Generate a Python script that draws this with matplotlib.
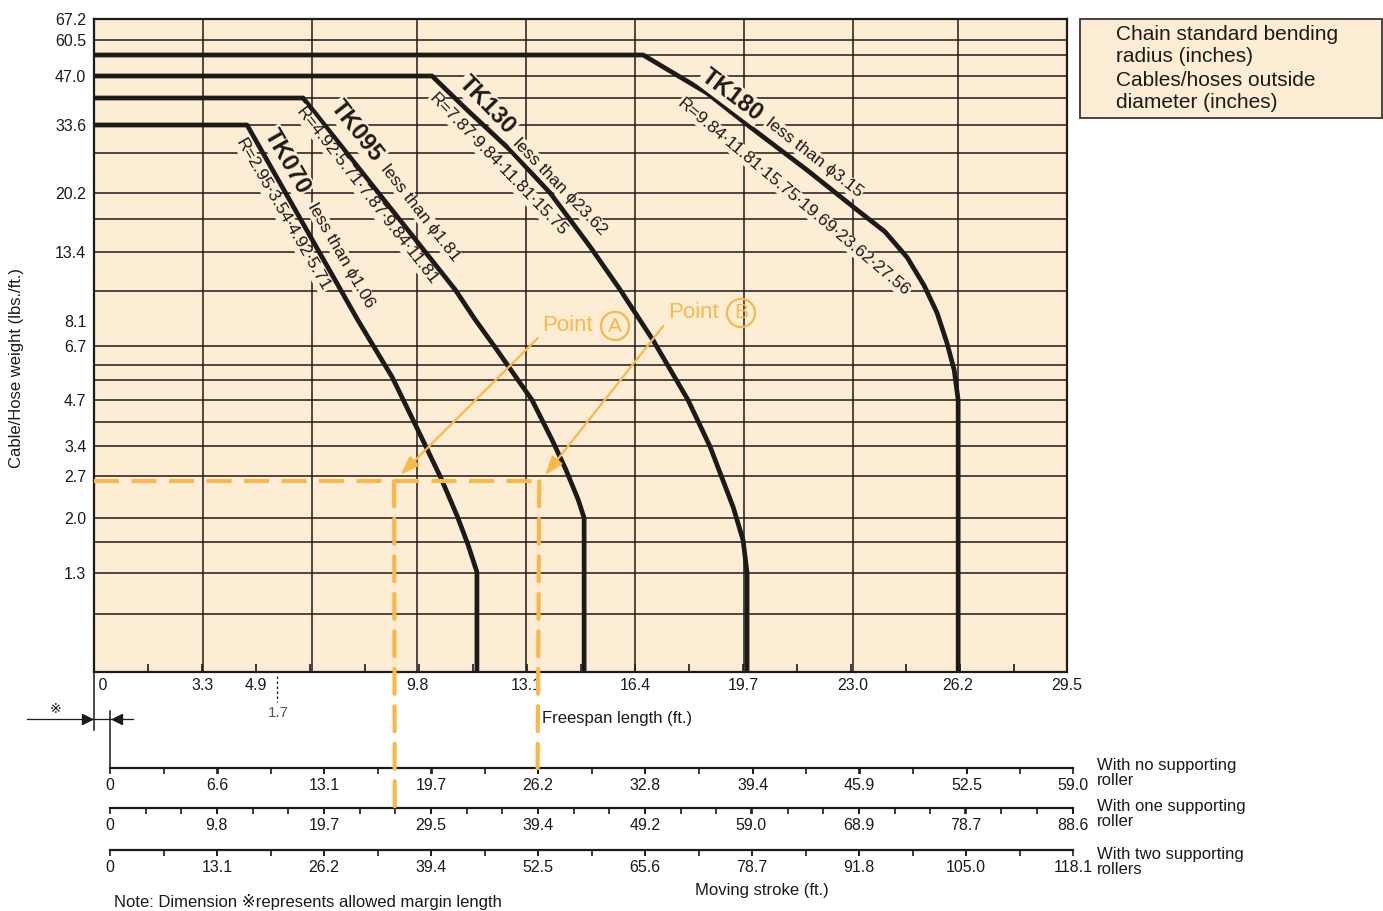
"""Cable carrier selection chart: freespan length vs. cable/hose weight.

Four chain series (TK070 .. TK180) are drawn on a calibrated weight axis,
with three moving-stroke scales underneath. Writes out.png.
"""

import numpy as np
import matplotlib

matplotlib.use("Agg")
import matplotlib.pyplot as plt
from matplotlib.patches import ConnectionPatch, Rectangle
from matplotlib.ticker import MultipleLocator, NullLocator

plt.rcParams["font.family"] = ["Liberation Sans", "DejaVu Sans", "Noto Sans CJK JP"]

# ---------------------------------------------------------------- data ---
SPAN_TICKS = [0, 3.3, 4.9, 9.8, 13.1, 16.4, 19.7, 23.0, 26.2, 29.5]
SPAN_GRID = [3.3, 6.6, 9.8, 13.1, 16.4, 19.7, 23.0, 26.2]

WEIGHT_TICKS = [67.2, 60.5, 47.0, 33.6, 20.2, 13.4, 8.1, 6.7, 4.7, 3.4, 2.7, 2.0, 1.3]
WEIGHT_GRID = [60.5, 53.8, 47.0, 40.3, 33.6, 26.9, 20.2, 16.8, 13.4, 10.1,
               6.7, 6.0, 5.4, 4.7, 4.0, 3.4, 2.7, 2.0, 1.7, 1.3, 1.0]

TK070_SPAN = [0, 4.64, 8.00, 9.04, 9.82, 10.52, 11.01, 11.34, 11.61, 11.61]
TK070_WEIGHT = [33.6, 33.6, 8.15, 5.51, 3.79, 2.66, 2.03, 1.66, 1.31, 0.67]

TK095_SPAN = [0, 6.34, 10.95, 11.55, 12.16, 13.28, 13.89, 14.31, 14.68,
              14.86, 14.86]
TK095_WEIGHT = [40.3, 40.3, 10.2, 8.2, 6.65, 4.7, 3.54, 2.83, 2.28, 2.0, 0.67]

TK130_SPAN = [0, 10.25, 11.31, 12.61, 13.83, 15.04, 15.95, 16.95, 18.01,
              18.68, 19.38, 19.68, 19.80, 19.80]
TK130_WEIGHT = [47.0, 47.0, 37.2, 27.6, 20.2, 13.9, 10.2, 7.0, 4.7,
                3.38, 2.16, 1.72, 1.3, 0.67]

TK180_SPAN = [0, 16.65, 18.59, 19.89, 21.62, 23.14, 23.98, 24.65, 25.17,
              25.56, 25.86, 26.08, 26.20, 26.20]
TK180_WEIGHT = [53.8, 53.8, 41.7, 33.1, 23.8, 17.9, 15.4, 12.9, 10.5,
                8.6, 6.86, 5.79, 4.7, 0.67]

# Moving stroke scales (ft.)
NO_ROLLER_TICKS = [0, 6.6, 13.1, 19.7, 26.2, 32.8, 39.4, 45.9, 52.5, 59.0]
ONE_ROLLER_TICKS = [0, 9.8, 19.7, 29.5, 39.4, 49.2, 59.0, 68.9, 78.7, 88.6]
TWO_ROLLER_TICKS = [0, 13.1, 26.2, 39.4, 52.5, 65.6, 78.7, 91.8, 105.0, 118.1]

# Worked example: 2.6 lbs/ft cable, 26.2 ft stroke
POINT_WEIGHT = 2.6
POINT_A_SPAN = 9.1    # with one supporting roller
POINT_B_SPAN = 13.5   # with no supporting roller
POINT_STROKE = 26.2

# ------------------------------------------------------------- styling ---
INK = "#1d1a18"
CREAM = "#feedd5"
ORANGE = "#f9b84a"
W, H = 1383, 911

# The weight axis of the original is a hand-drawn, roughly logarithmic
# scale; calibrate it from the printed tick positions (height above base).
CAL_WEIGHT = [0.67, 1.0, 1.3, 1.7, 2.0, 2.7, 3.4, 4.0, 4.7, 5.4, 6.0, 6.7, 8.1,
              10.1, 13.4, 16.8, 20.2, 26.9, 33.6, 40.3, 47.0, 53.8, 60.5, 67.2]
CAL_HEIGHT = [0, 58, 99, 130, 154, 196, 226, 250, 272, 292, 307, 326, 351,
              381, 420, 453, 479, 519, 547, 574, 596, 617, 632, 653]
_LOGW = np.log(CAL_WEIGHT)
_H = np.asarray(CAL_HEIGHT, float)


def weight_to_h(w):
    w = np.clip(np.asarray(w, float), 1e-6, None)
    return np.interp(np.log(w), _LOGW, _H)


def h_to_weight(h):
    return np.exp(np.interp(np.asarray(h, float), _H, _LOGW))


def rect(left, top, right, bottom):
    """Pixel box of the reference -> figure fraction [l, b, w, h]."""
    return [left / W, 1 - bottom / H, (right - left) / W, (bottom - top) / H]


fig = plt.figure(figsize=(W / 100, H / 100), dpi=100)

# ---------------------------------------------------------- main chart ---
ax = fig.add_axes(rect(94, 19, 1067, 672))
ax.set_facecolor(CREAM)
ax.set_yscale("function", functions=(weight_to_h, h_to_weight))
ax.set_xlim(0, 29.5)
ax.set_ylim(0.67, 67.2)

for w in WEIGHT_GRID:
    ax.axhline(w, color=INK, lw=1.1, zorder=1)
for x in SPAN_GRID:
    ax.axvline(x, color=INK, lw=1.1, zorder=1)

ax.set_yticks(WEIGHT_TICKS, [f"{v:.1f}" for v in WEIGHT_TICKS])
ax.yaxis.set_minor_locator(NullLocator())
ax.tick_params(axis="y", length=0, pad=5.5, labelsize=11.5, labelcolor=INK)
ax.set_xticks(SPAN_TICKS, [" 0"] + [f"{v:.1f}" for v in SPAN_TICKS[1:]])
ax.xaxis.set_minor_locator(MultipleLocator(1.6404))
ax.tick_params(axis="x", which="major", length=0, pad=4, labelsize=11.5,
               labelcolor=INK)
ax.tick_params(axis="x", which="minor", direction="in", length=6, width=1.2,
               color=INK)
ax.get_xticklabels()[0].set_ha("left")
for side in ax.spines.values():
    side.set_linewidth(1.6)
    side.set_color(INK)

for span, weight in [(TK070_SPAN, TK070_WEIGHT), (TK095_SPAN, TK095_WEIGHT),
                     (TK130_SPAN, TK130_WEIGHT), (TK180_SPAN, TK180_WEIGHT)]:
    ax.plot(span, weight, color=INK, lw=3.4, solid_joinstyle="round", zorder=3)

ax.plot([0, POINT_B_SPAN], [POINT_WEIGHT, POINT_WEIGHT], color=ORANGE, lw=3,
        ls=(0, (6, 3)), zorder=4)

arrow = dict(arrowstyle="-|>,head_length=0.7,head_width=0.25", color=ORANGE,
             lw=1.6, relpos=(0, 0.15), shrinkA=2, shrinkB=0)
ax.annotate("Point", xy=(9.3, 2.73), xytext=(13.6, 7.8), color=ORANGE,
            fontsize=16, ha="left", va="center", arrowprops=arrow, zorder=5)
ax.annotate("Point", xy=(13.68, 2.72), xytext=(17.4, 8.6), color=ORANGE,
            fontsize=16, ha="left", va="center", arrowprops=arrow, zorder=5)

# ------------------------------------------------------- stroke scales ---
strokes = []
for top, ticks, minor in [(768, NO_ROLLER_TICKS, 3.2808),
                          (808, ONE_ROLLER_TICKS, 3.2808),
                          (850, TWO_ROLLER_TICKS, 6.5617)]:
    sa = fig.add_axes(rect(110, top - 1, 1073, top))
    sa.set_xlim(0, ticks[-1])
    sa.set_ylim(0, 1)
    sa.patch.set_alpha(0)
    for name in ("top", "left", "right"):
        sa.spines[name].set_visible(False)
    sa.spines["bottom"].set_linewidth(1.6)
    sa.spines["bottom"].set_color(INK)
    sa.set_yticks([])
    sa.set_xticks(ticks, ["0"] + [f"{v:.1f}" for v in ticks[1:]])
    sa.xaxis.set_minor_locator(MultipleLocator(minor))
    sa.tick_params(axis="x", which="both", direction="out", length=4,
                   width=1.2, color=INK, pad=3, labelsize=11.5, labelcolor=INK)
    strokes.append(sa)

for span, target in [(POINT_A_SPAN, strokes[1]), (POINT_B_SPAN, strokes[0])]:
    con = ConnectionPatch(xyA=(span, POINT_WEIGHT), coordsA=ax.transData,
                          xyB=(POINT_STROKE, 0), coordsB=target.transData,
                          color=ORANGE, lw=3, linestyle=(0, (6, 3)), zorder=4)
    fig.add_artist(con)

# --------------------------------------------- annotations (pixel space) ---
ov = fig.add_axes([0, 0, 1, 1], zorder=5)
ov.set_xlim(0, W)
ov.set_ylim(H, 0)
ov.axis("off")
ov.patch.set_alpha(0)

# circled point letters
for x, y, s in [(615, 326, "A"), (741, 313, "B")]:
    ov.text(x, y, s, fontsize=15, color=ORANGE, ha="center", va="center",
            bbox=dict(boxstyle="circle,pad=0.22", fc="none", ec=ORANGE, lw=1.6))

box = dict(boxstyle="square,pad=0.05", fc=CREAM, ec="none")
CURVE_LABELS = [
    ("TK070", 287, 161, -60, 17, "bold"),
    ("less than ϕ1.06", 341, 255, -60, 12.5, "normal"),
    ("R=2.95∙3.54∙4.92∙5.71", 283, 215, -60, 12.5, "normal"),
    ("TK095", 357, 131, -52, 17, "bold"),
    ("less than ϕ1.81", 420, 213, -52, 12.5, "normal"),
    ("R=4.92∙5.71∙7.87∙9.84∙11.81", 367, 196, -52, 12.5, "normal"),
    ("TK130", 487, 105, -46, 17, "bold"),
    ("less than ϕ23.62", 560, 187, -46, 12.5, "normal"),
    ("R=7.87∙9.84∙11.81∙15.75", 498, 165, -46, 12.5, "normal"),
    ("TK180", 732, 95, -37, 17, "bold"),
    ("less than ϕ3.15", 814, 158, -38, 12.5, "normal"),
    ("R=9.84∙11.81∙15.75∙19.69∙23.62∙27.56", 794, 197, -40, 12.5, "normal"),
]
for s, x, y, rot, size, weight in CURVE_LABELS:
    ov.text(x, y, s, rotation=rot, rotation_mode="anchor", ha="center",
            va="center", fontsize=size, fontweight=weight, color=INK, bbox=box)

# legend box
ov.add_patch(Rectangle((1080, 19), 302, 99, fc=CREAM, ec="#3a3530", lw=1.3))
for i, line in enumerate(["Chain standard bending", "radius (inches)",
                          "Cables/hoses outside", "diameter (inches)"]):
    ov.text(1116, 34 + i * 23, line, fontsize=15, color=INK, va="center")

ov.text(17, 368, "Cable/Hose weight (lbs./ft.)", rotation=90, fontsize=12,
        color=INK, ha="center", va="center")
ov.text(542, 718, "Freespan length (ft.)", fontsize=12, color=INK, va="center")
ov.text(762, 890, "Moving stroke (ft.)", fontsize=12, color=INK,
        ha="center", va="center")
ov.text(114, 902, "Note: Dimension ※represents allowed margin length",
        fontsize=12, color=INK, va="center")
for y, s in [(773, "With no supporting\nroller"),
             (814, "With one supporting\nroller"),
             (862, "With two supporting\nrollers")]:
    ov.text(1097, y, s, fontsize=12, color=INK, va="center", linespacing=0.95)

# margin dimension and scale offsets
ov.plot([94, 94], [672, 730], color=INK, lw=1.1)
ov.plot([110, 110], [711, 768], color=INK, lw=1.1)
ov.plot([27, 133], [719, 719], color=INK, lw=0.9)
ov.plot([87], [719], marker=">", ms=7, color=INK)
ov.plot([117], [719], marker="<", ms=7, color=INK)
ov.text(55, 709, "※", fontsize=10, color=INK, ha="center", va="center")
ov.plot([277, 277], [676, 702], color=INK, lw=0.9, ls=(0, (2, 2)))
ov.text(278, 713, "1.7", fontsize=11, color="#555", ha="center", va="center")

fig.savefig("out.png", dpi=100)
